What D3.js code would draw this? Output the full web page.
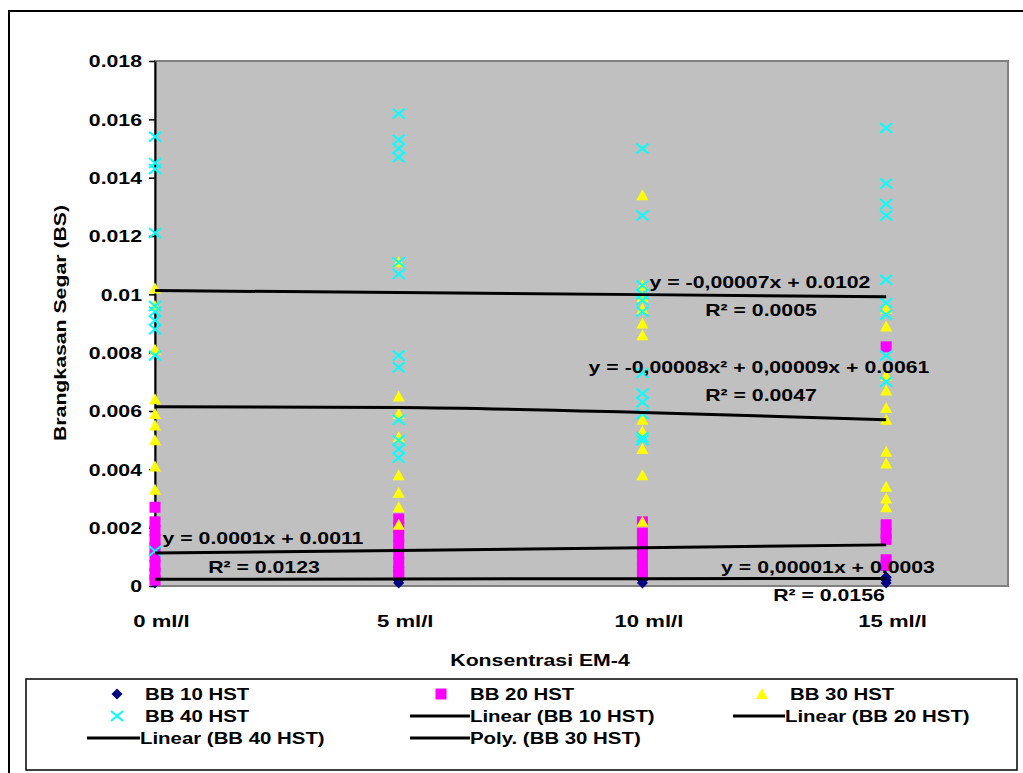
<!DOCTYPE html>
<html>
<head>
<meta charset="utf-8">
<script src="https://cdn.jsdelivr.net/npm/d3@7"></script>
<style>
body { margin: 0; background: #fff; }
svg text { font-family: "Liberation Sans", Arial, sans-serif; font-weight: bold; fill: #000; }
</style>
</head>
<body>
<script>
//Categories on the x axis and the tick labels of the y axis.
const categories = ["0 ml/l", "5 ml/l", "10 ml/l", "15 ml/l"];
const yTicks = [0, 0.002, 0.004, 0.006, 0.008, 0.01, 0.012, 0.014, 0.016, 0.018];
const yTickLabels = ["0", "0.002", "0.004", "0.006", "0.008", "0.01", "0.012", "0.014", "0.016", "0.018"];

//Observed values, one list per category (0, 5, 10, 15 ml/l).
const bb10 = [
    [0.0001, 0.0002, 0.0003, 0.0005, 0.0006],
    [0.0001, 0.0002, 0.0002, 0.0003],
    [0.0001, 0.0002, 0.0003, 0.0004],
    [0.0001, 0.0002, 0.0003, 0.0003]
];
const bb20 = [
    [0.0027, 0.0022, 0.0019, 0.0016, 0.0013, 0.0010, 0.0007, 0.0004, 0.0002],
    [0.0023, 0.0020, 0.0017, 0.0014, 0.0011, 0.0008, 0.0005, 0.0004],
    [0.0022, 0.0018, 0.0015, 0.0012, 0.0009, 0.0006, 0.0004],
    [0.0082, 0.0021, 0.0018, 0.0016, 0.0009, 0.0007]
];
const bb30 = [
    [0.0102, 0.0096, 0.0081, 0.0064, 0.0059, 0.0055, 0.0050, 0.0041, 0.0033],
    [0.0111, 0.0065, 0.0059, 0.0051, 0.0038, 0.0032, 0.0027, 0.0021],
    [0.0134, 0.0103, 0.0099, 0.0095, 0.0090, 0.0086, 0.0057, 0.0053, 0.0047, 0.0038, 0.0022],
    [0.0095, 0.0089, 0.0072, 0.0067, 0.0061, 0.0057, 0.0046, 0.0042, 0.0034, 0.0030, 0.0027]
];
const bb40 = [
    [0.0154, 0.0145, 0.0143, 0.0121, 0.0096, 0.0094, 0.0091, 0.0088, 0.0079, 0.0012],
    [0.0162, 0.0153, 0.0150, 0.0147, 0.0111, 0.0107, 0.0079, 0.0075, 0.0057, 0.0050, 0.0047, 0.0044],
    [0.0150, 0.0127, 0.0103, 0.0100, 0.0098, 0.0094, 0.0073, 0.0066, 0.0063, 0.0059, 0.0051, 0.0050],
    [0.0157, 0.0138, 0.0131, 0.0127, 0.0105, 0.0097, 0.0093, 0.0079, 0.0070]
];

//Trendline values at each category.
const trend10 = [0.00023, 0.00024, 0.00025, 0.00026];
const trend20 = [0.00113, 0.00122, 0.00131, 0.00141];
const trend30 = [0.00615, 0.00612, 0.00595, 0.00570];
const trend40 = [0.01013, 0.01006, 0.00999, 0.00992];

//Trendline equation texts.
const eqTexts = ["y = -0,00007x + 0.0102", "R\u00B2 = 0.0005",
                 "y = -0,00008x\u00B2 + 0,00009x + 0.0061", "R\u00B2 = 0.0047",
                 "y = 0.0001x + 0.0011", "R\u00B2 = 0.0123",
                 "y = 0,00001x + 0.0003", "R\u00B2 = 0.0156"];

const legendNames = ["BB 10 HST", "BB 20 HST", "BB 30 HST", "BB 40 HST",
                     "Linear (BB 10 HST)", "Linear (BB 20 HST)", "Linear (BB 40 HST)", "Poly. (BB 30 HST)"];

const w = 1023;
const h = 773;
const plot = {left: 155, top: 61, right: 1008, bottom: 586};

const xScale = d3.scaleLinear().domain([0, 3.5]).range([plot.left, plot.right]);
const yScale = d3.scaleLinear().domain([0, 0.018]).range([plot.bottom, plot.top]);

const svg = d3.select("body").append("svg").attr("width", w).attr("height", h);

//The font is wide, so text is stretched horizontally.
function label(x, y, str, anchor, rot, sx) {
    let t = "translate(" + x + "," + y + ")" + (rot ? " rotate(" + rot + ")" : "") + " scale(" + (sx || 1.25) + ",1)";
    svg.append("g").attr("transform", t)
        .append("text")
        .attr("text-anchor", anchor || "middle")
        .attr("dy", "0.35em")
        .attr("font-size", 17)
        .text(str);
}

//Outer chart border.
svg.append("rect").attr("x", 9).attr("y", 11).attr("width", 1100).attr("height", 800)
    .attr("fill", "none").attr("stroke", "#000").attr("stroke-width", 2);

//Plot area.
svg.append("rect")
    .attr("x", plot.left).attr("y", plot.top)
    .attr("width", plot.right - plot.left).attr("height", plot.bottom - plot.top)
    .attr("fill", "#c0c0c0").attr("stroke", "#808080").attr("stroke-width", 2);

const yAxis = d3.axisLeft(yScale).tickValues(yTicks).tickSize(6).tickSizeOuter(0)
    .tickFormat((d, i) => yTickLabels[i]);

const gy = svg.append("g")
    .attr("transform", "translate(" + plot.left + ",0)")
    .call(yAxis);
gy.select(".domain").attr("stroke", "#000").attr("stroke-width", 2);
gy.selectAll(".tick line").attr("stroke", "#000").attr("stroke-width", 1.5);
gy.selectAll(".tick text")
    .attr("x", 0).attr("dy", "0.35em")
    .attr("transform", "translate(-13,0) scale(1.25,1)")
    .attr("font-size", 17).attr("font-family", null);

//X axis labels only (no axis line in the original).
const gx = svg.append("g")
    .attr("transform", "translate(0," + plot.bottom + ")")
    .call(d3.axisBottom(xScale).tickValues([0, 1, 2, 3]).tickSize(0).tickFormat((d, i) => categories[i]));
gx.select(".domain").remove();
gx.selectAll(".tick text")
    .attr("y", 0).attr("dy", "0.35em")
    .attr("transform", "translate(6,35) scale(1.3,1)")
    .attr("font-size", 17).attr("font-family", null);

//Marker shapes.
const shapes = {
    diamond: "M0,-5.5L5.5,0L0,5.5L-5.5,0Z",
    square: "M-5.5,-5.5H5.5V5.5H-5.5Z",
    triangle: "M0,-6L6,5H-6Z",
    cross: "M-6,-5L6,5M-6,5L6,-5"
};

function flatten(series) {
    let pts = [];
    series.forEach((vals, i) => vals.forEach(v => pts.push([i, v])));
    return pts;
}

function drawSeries(series, shape, color) {
    let g = svg.append("g");
    let sel = g.selectAll("path").data(flatten(series)).enter().append("path")
        .attr("transform", d => "translate(" + xScale(d[0]) + "," + yScale(d[1]) + ")")
        .attr("d", shapes[shape]);
    if (shape === "cross") {
        sel.attr("fill", "none").attr("stroke", color).attr("stroke-width", 2);
    } else {
        sel.attr("fill", color);
    }
}

drawSeries(bb10, "diamond", "#000080");
drawSeries(bb20, "square", "#ff00ff");
drawSeries(bb30, "triangle", "#ffff00");
drawSeries(bb40, "cross", "#00ffff");

//Trendlines.
const lineGen = d3.line().x((d, i) => xScale(i)).y(d => yScale(d));
[trend10, trend20, trend40].forEach(t => {
    svg.append("path").datum(t).attr("d", lineGen)
        .attr("fill", "none").attr("stroke", "#000").attr("stroke-width", 3);
});
svg.append("path").datum(trend30).attr("d", lineGen.curve(d3.curveMonotoneX))
    .attr("fill", "none").attr("stroke", "#000").attr("stroke-width", 3);

//Equation labels.
label(760, 282, eqTexts[0]);
label(761, 310, eqTexts[1]);
label(759, 367, eqTexts[2]);
label(761, 395, eqTexts[3]);
label(263, 538, eqTexts[4]);
label(264, 567, eqTexts[5]);
label(828, 567, eqTexts[6]);
label(829, 595, eqTexts[7]);

//Axis titles.
label(540, 660, "Konsentrasi EM-4");
label(60, 323, "Brangkasan Segar (BS)", "middle", -90);

//Legend.
svg.append("rect").attr("x", 26).attr("y", 679).attr("width", 991).attr("height", 91)
    .attr("fill", "#fff").attr("stroke", "#000").attr("stroke-width", 1.5);

const legendItems = [
    {name: legendNames[0], kind: "diamond", color: "#000080", x: 117, tx: 145, row: 0},
    {name: legendNames[1], kind: "square", color: "#ff00ff", x: 441, tx: 470, row: 0},
    {name: legendNames[2], kind: "triangle", color: "#ffff00", x: 762, tx: 790, row: 0},
    {name: legendNames[3], kind: "cross", color: "#00ffff", x: 117, tx: 145, row: 1},
    {name: legendNames[4], kind: "line", x: 410, tx: 470, row: 1},
    {name: legendNames[5], kind: "line", x: 733, tx: 785, row: 1},
    {name: legendNames[6], kind: "line", x: 87, tx: 140, row: 2},
    {name: legendNames[7], kind: "line", x: 410, tx: 470, row: 2}
];
const rowY = [694, 716, 738];

legendItems.forEach(it => {
    let y = rowY[it.row];
    if (it.kind === "line") {
        svg.append("line").attr("x1", it.x).attr("x2", it.tx).attr("y1", y).attr("y2", y)
            .attr("stroke", "#000").attr("stroke-width", 3);
    } else {
        let p = svg.append("path").attr("transform", "translate(" + it.x + "," + y + ")")
            .attr("d", shapes[it.kind]);
        if (it.kind === "cross") p.attr("fill", "none").attr("stroke", it.color).attr("stroke-width", 2);
        else p.attr("fill", it.color);
    }
    label(it.tx, y, it.name, "start", 0, 1.2);
});
</script>
</body>
</html>
